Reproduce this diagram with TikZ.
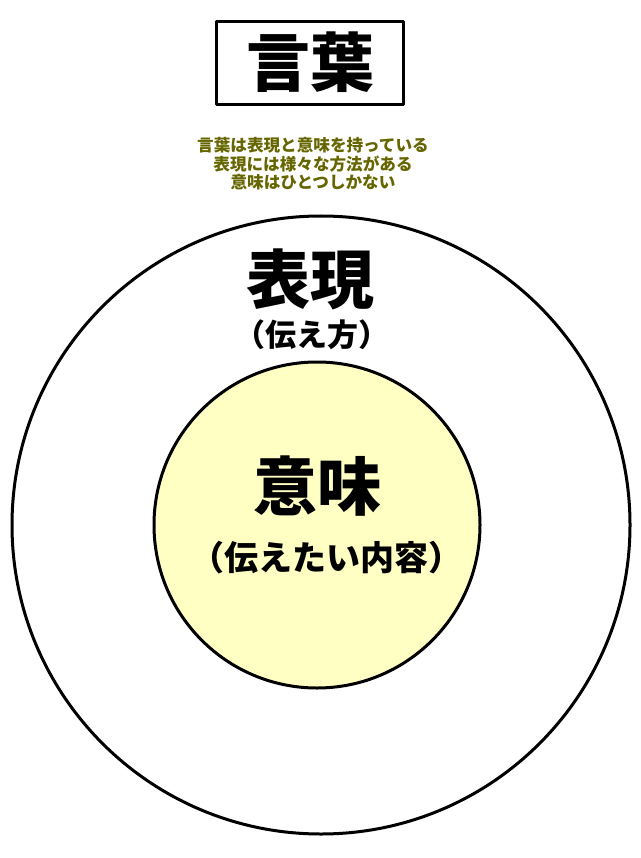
\documentclass[tikz,border=0pt]{standalone}
\usepackage{fontspec}
\newfontfamily\jpfont{Noto Sans CJK JP}
\definecolor{olive}{RGB}{102,102,0}
\definecolor{pale}{RGB}{255,255,196}
\begin{document}
\begin{tikzpicture}[x=1pt,y=-1pt, line join=round, line cap=round,
    ring/.style={draw=black,line width=3pt},
    big/.style={font=\jpfont\bfseries\fontsize{64}{64}\selectfont},
    sub/.style={font=\jpfont\bfseries\fontsize{#1}{#1}\selectfont}]
                \useasboundingbox (0,0) rectangle (640,858);
                \draw[ring,fill=white] (321,525) circle (309);
                \draw[ring,fill=pale] (317,525) circle (163);
                \node[draw,line width=2.5pt,minimum width=187pt,minimum height=83pt,inner sep=0pt] (title) at (310,63) {};
                \node[big] (kotoba) at (310,62) {言葉};
                \node[font=\jpfont\bfseries\fontsize{16.6}{18.5}\selectfont,text=olive,align=center] (note) at (313,164)
                    {言葉は表現と意味を持っている\\表現には様々な方法がある\\意味はひとつしかない};
                \node[big] (hyogen) at (310,279) {表現};
                \node[sub=31] (hyogensub) at (312,335) {（伝え方）};
                \node[big] (imi) at (317,486) {意味};
                \node[sub=34] (imisub) at (326,558) {（伝えたい内容）};
            \end{tikzpicture}
\end{document}
